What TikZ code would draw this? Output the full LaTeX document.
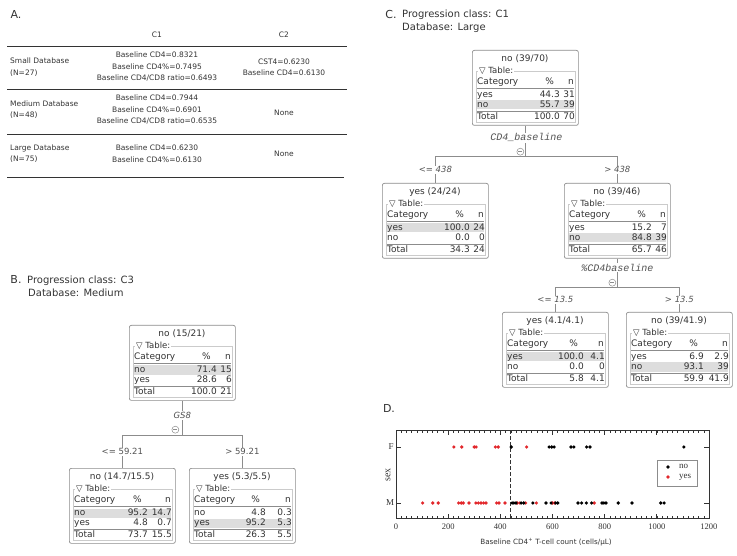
\documentclass[tikz,border=0pt]{standalone}
\usepackage{fontspec}
\setmainfont{DejaVu Sans}
\newfontfamily\varfont{Liberation Mono}
\newfontfamily\plotfont{Liberation Serif}

\definecolor{frame}{HTML}{8C8C8C}
\definecolor{hlrow}{HTML}{DDDDDD}
\definecolor{ink}{HTML}{333333}
\definecolor{dotred}{HTML}{E2282C}

\newcommand{\fsz}[1]{\fontsize{#1}{#1}\selectfont}

% tree node: name, top-left, title, % column edge, marked row, rows, total
\newcommand{\dtnode}[7]{%
  \begin{scope}[shift={#2}]
    \node[dtbox] (#1) at (0,0) {};
    \fill[hlrow] (5,{30.5+10*#5}) rectangle (102,{39.5+10*#5});
    \draw[inframe] (4,21) rectangle (103,72);
    \node[dttitle] at (53,9) {#3};
    \node[dtlegend] at (6,21) {▽ Table:};
    \node[dtcell,anchor=west] at (5,32) {Category};
    \node[dtcell,anchor=east] at ({#4-6},32) {\%};
    \node[dtcell,anchor=east] at (102,32) {n};
    \draw[dtrule] (5,38) -- (102,38);
    \foreach \rcat/\rpct/\rnum [count=\i] in {#6} {
      \node[dtcell,anchor=west] at (5,{35+10*\i}) {\rcat};
      \node[dtcell,anchor=east] at (#4,{35+10*\i}) {\rpct};
      \node[dtcell,anchor=east] at (103,{35+10*\i}) {\rnum};
    }
    \draw[dtrule] (5,61) -- (102,61);
    \foreach \rpct/\rnum in {#7} {
      \node[dtcell,anchor=west] at (5,67) {Total};
      \node[dtcell,anchor=east] at (#4,67) {\rpct};
      \node[dtcell,anchor=east] at (103,67) {\rnum};
    }
  \end{scope}}

\begin{document}
\begin{tikzpicture}[x=1pt,y=-1pt,
  pletter/.style={font=\fsz{11},text=ink,inner sep=0pt},
  heading/.style={font=\fsz{10},text=ink,anchor=west,inner sep=0pt},
  tabtext/.style={font=\fontsize{7.5}{11.5}\selectfont,text=ink,align=center,inner sep=0pt},
  rowhead/.style={tabtext,align=left,anchor=west},
  arule/.style={draw=ink,line width=0.8pt},
  dtbox/.style={draw=frame,fill=white,rounded corners=2pt,line width=0.7pt,
    minimum width=106pt,minimum height=75pt,anchor=north west,inner sep=0pt},
  inframe/.style={draw=frame!45,line width=0.5pt},
  dtrule/.style={draw=frame,line width=0.6pt},
  dttitle/.style={font=\fsz{9},text=ink,inner sep=0pt},
  dtlegend/.style={font=\fsz{8.5},text=ink,fill=white,anchor=west,inner xsep=1pt,inner ysep=0pt},
  dtcell/.style={font=\fsz{9},text=ink,inner sep=0pt,text height=6.5pt,text depth=1.5pt},
  edge/.style={draw=frame,line width=0.7pt},
  cond/.style={font=\fsz{8.5}\itshape,text=ink!85,fill=white,inner sep=1pt},
  condup/.style={cond,font=\fsz{8.5}},
  splitvar/.style={font=\varfont\fsz{10}\itshape,text=ink!85,fill=white,inner sep=1pt},
  splitsans/.style={font=\fsz{8.5}\itshape,text=ink!85,fill=white,inner sep=1pt},
  foldmark/.style={circle,draw=frame,fill=white,minimum size=7pt,inner sep=0pt,line width=0.5pt,
    path picture={\draw[frame,line width=0.5pt]
      ([xshift=-2pt]path picture bounding box.center) -- ([xshift=2pt]path picture bounding box.center);}},
  plotline/.style={draw=ink,line width=0.7pt},
  ticklbl/.style={font=\plotfont\fsz{8.5},text=ink,inner sep=0pt},
  nodot/.style={fill=black},
  yesdot/.style={fill=dotred}]
  \useasboundingbox (0,0) rectangle (737,556);

  % A: table
  \node[pletter] (la) at (16,14) {A.};
  \node[tabtext] (h1) at (157,35) {C1};
  \node[tabtext] (h2) at (284,35) {C2};
  \draw[arule] (7,46) -- (347,46);
  \node[rowhead] (r1) at (10,67) {Small Database\\(N=27)};
  \node[tabtext] (r1a) at (157,67) {Baseline CD4=0.8321\\Baseline CD4\%=0.7495\\Baseline CD4/CD8 ratio=0.6493};
  \node[tabtext] (r1b) at (284,67.5) {CST4=0.6230\\Baseline CD4=0.6130};
  \draw[arule] (7,89) -- (347,89);
  \node[rowhead] (r2) at (10,109.5) {Medium Database\\(N=48)};
  \node[tabtext] (r2a) at (157,110) {Baseline CD4=0.7944\\Baseline CD4\%=0.6901\\Baseline CD4/CD8 ratio=0.6535};
  \node[tabtext] (r2b) at (284,113) {None};
  \draw[arule] (7,134) -- (347,134);
  \node[rowhead] (r3) at (10,153.5) {Large Database\\(N=75)};
  \node[tabtext] (r3a) at (157,153.5) {Baseline CD4=0.6230\\Baseline CD4\%=0.6130};
  \node[tabtext] (r3b) at (284,154) {None};
  \draw[arule] (7,177) -- (344,177);

  % B: tree, class C3
  \node[pletter] (lb) at (16,279) {B.};
  \node[heading] (tb1) at (27,281) {Progression class: C3};
  \node[heading] (tb2) at (28,293) {Database: Medium};
  \dtnode{b0}{(129,325)}{no (15/21)}{88}{1}{no/71.4/15,yes/28.6/6}{100.0/21}
  \dtnode{b1}{(69,468)}{no (14.7/15.5)}{79}{1}{no/95.2/14.7,yes/4.8/0.7}{73.7/15.5}
  \dtnode{b2}{(189,468)}{yes (5.3/5.5)}{77}{2}{no/4.8/0.3,yes/95.2/5.3}{26.3/5.5}
  \draw[edge] (b0.south) -- ++(0,35) coordinate (b0s);
  \node[splitsans] (b0v) at ([shift={(0,15)}]b0.south) {GS8};
  \node[foldmark] (b0m) at ([shift={(-7,29)}]b0.south) {};
  \draw[edge] (b1.north) -- node[condup]{<= 59.21} (b1.north |- b0s)
    -- (b2.north |- b0s) -- node[condup]{> 59.21} (b2.north);

  % C: tree, class C1
  \node[pletter] (lc) at (391,14) {C.};
  \node[heading] (tc1) at (402,15) {Progression class: C1};
  \node[heading] (tc2) at (402,28) {Database: Large};
  \dtnode{c0}{(472,50)}{no (39/70)}{88}{2}{yes/44.3/31,no/55.7/39}{100.0/70}
  \dtnode{c1}{(382,183)}{yes (24/24)}{88}{1}{yes/100.0/24,no/0.0/0}{34.3/24}
  \dtnode{c2}{(564,183)}{no (39/46)}{88}{2}{yes/15.2/7,no/84.8/39}{65.7/46}
  \dtnode{c21}{(502,312)}{yes (4.1/4.1)}{82}{1}{yes/100.0/4.1,no/0.0/0}{5.8/4.1}
  \dtnode{c22}{(626,312)}{no (39/41.9)}{78}{2}{yes/6.9/2.9,no/93.1/39}{59.9/41.9}
  \draw[edge] (c0.south) -- ++(0,31) coordinate (c0s);
  \node[splitvar] (c0v) at ([shift={(1,12)}]c0.south) {CD4\_baseline};
  \node[foldmark] (c0m) at ([shift={(-5,26)}]c0.south) {};
  \draw[edge] (c1.north) -- node[cond]{<= 438} (c1.north |- c0s)
    -- (c2.north |- c0s) -- node[cond]{> 438} (c2.north);
  \draw[edge] (c2.south) -- ++(0,29) coordinate (c2s);
  \node[splitvar] (c2v) at ([shift={(0,9)}]c2.south) {\%CD4baseline};
  \node[foldmark] (c2m) at ([shift={(-5,24)}]c2.south) {};
  \draw[edge] (c21.north) -- node[cond]{<= 13.5} (c21.north |- c2s)
    -- (c22.north |- c2s) -- node[cond]{> 13.5} (c22.north);

  % D: dot plot
  \node[pletter] (ld) at (389,408) {D.};
  \begin{scope}[shift={(396,0)},x=0.2608pt]
    \draw[plotline] (0,430) rectangle (1200,518);
    \foreach \v in {20,40,...,1180} {
      \draw[plotline,line width=0.5pt] (\v,518) -- ++(0,-2.5);
      \draw[plotline,line width=0.5pt] (\v,430) -- ++(0,2.5);
    }
    \foreach \v in {200,400,...,1000} {
      \draw[plotline] (\v,518) -- ++(0,-4.5);
      \draw[plotline] (\v,430) -- ++(0,4.5);
    }
    \foreach \v in {0,200,...,1200}
      \node[ticklbl] at (\v,527) {\v};
    \foreach \yy in {447,503} {
      \draw[plotline] (0,\yy) -- ++(5pt,0pt);
      \draw[plotline] (1200,\yy) -- ++(-5pt,0pt);
    }
    \draw[plotline,line width=0.9pt,dash pattern=on 4pt off 2pt] (438,430) -- (438,518);
    \foreach \v in {222,252,300,307,381,392,501}
      \fill[yesdot] (\v,447) circle (1.8pt);
    \foreach \v in {442,587,597,606,671,682,731,744,1104}
      \fill[nodot] (\v,447) circle (1.8pt);
    \foreach \v in {102,141,162,240,250,258,280,306,316,326,336,345,386,395,418,
                    465,475,497,538,600,608,760}
      \fill[yesdot] (\v,503) circle (1.8pt);
    \foreach \v in {445,452,460,480,490,525,575,595,612,620,698,712,730,750,
                    790,797,805,852,905,1015,1028}
      \fill[nodot] (\v,503) circle (1.8pt);
  \end{scope}
  \node[ticklbl,font=\plotfont\fsz{9}] (yf) at (391,447) {F};
  \node[ticklbl,font=\plotfont\fsz{9}] (ym) at (390,503) {M};
  \node[ticklbl,font=\plotfont\fsz{10},rotate=90] (ys) at (388,475) {sex};
  \node[font=\fsz{7.2},text=ink,inner sep=0pt] (xl) at (546,542)
    {Baseline CD4\textsuperscript{+} T-cell count (cells/µL)};
  \draw[draw=frame,line width=0.6pt] (657,460) rectangle (697,486);
  \fill[nodot] (668,467) circle (1.8pt);
  \fill[yesdot] (668,477) circle (1.8pt);
  \node[ticklbl,font=\plotfont\fsz{9},anchor=west] (lno) at (679,466) {no};
  \node[ticklbl,font=\plotfont\fsz{9},anchor=west] (lyes) at (679,477) {yes};
\end{tikzpicture}
\end{document}
